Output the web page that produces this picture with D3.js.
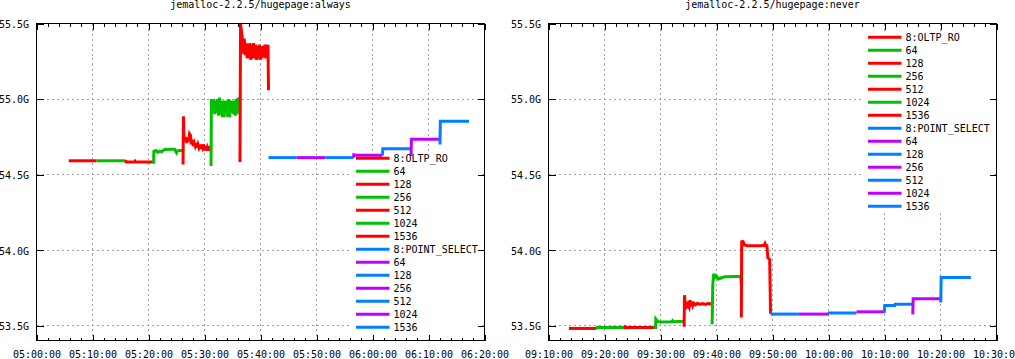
<!DOCTYPE html>
<html>
<head>
<meta charset="utf-8">
<script src="https://cdn.jsdelivr.net/npm/d3@7"></script>
<style>
body{margin:0;background:#fff;}
svg{display:block;font-family:"DejaVu Sans Mono",monospace;font-size:10px;}
</style>
</head>
<body>
<div id="chart"></div>
<script>
// data (values in G)
var panelTitles = ["jemalloc-2.2.5/hugepage:always", "jemalloc-2.2.5/hugepage:never"];
var legendLabels = ["8:OLTP_RO","64","128","256","512","1024","1536",
                    "8:POINT_SELECT","64","128","256","512","1024","1536"];
var yTicks = [53.5, 54.0, 54.5, 55.0, 55.5];
var xRanges = [["05:00:00","06:20:00"], ["09:10:00","10:30:00"]];

var alwaysSeries = [
  [["05:05:46",54.592],["05:10:43",54.592]],
  [["05:10:43",54.592],["05:15:54",54.592]],
  [["05:15:54",54.596],["05:16:00",54.584],["05:17:30",54.584],["05:17:35",54.589],["05:17:40",54.584],["05:20:54",54.584]],
  [["05:20:54",54.573],["05:20:58",54.655],["05:21:20",54.660],["05:21:40",54.648],["05:22:00",54.656],["05:22:20",54.652],
   ["05:22:40",54.662],["05:23:00",54.668],["05:23:30",54.666],["05:24:00",54.668],["05:24:40",54.668],["05:25:00",54.645],
   ["05:25:10",54.658],["05:25:40",54.660],["05:26:10",54.660]],
  [["05:26:10",54.567],["05:26:14",54.886],["05:26:20",54.750],["05:26:30",54.720],["05:26:40",54.750],["05:26:50",54.710],
   ["05:27:00",54.740],["05:27:10",54.720],["05:27:20",54.770],["05:27:30",54.760],["05:27:40",54.700],["05:27:50",54.730],
   ["05:28:00",54.690],["05:28:10",54.710],["05:28:20",54.690],["05:28:30",54.710],["05:28:40",54.680],["05:28:50",54.700],
   ["05:29:00",54.680],["05:29:10",54.700],["05:29:20",54.670],["05:29:30",54.700],["05:29:40",54.680],["05:29:50",54.700],
   ["05:30:00",54.660],["05:30:10",54.690],["05:30:20",54.660],["05:30:30",54.680],["05:30:40",54.660],["05:30:50",54.690],
   ["05:31:00",54.660],["05:31:10",54.680]],
  [["05:31:10",54.557],["05:31:14",54.990],["05:31:20",54.990],["05:31:30",54.910],["05:31:40",55.000],["05:31:50",54.900],
   ["05:32:00",54.990],["05:32:10",54.910],["05:32:20",55.000],["05:32:30",54.890],["05:32:40",55.010],["05:32:50",54.900],
   ["05:33:00",54.990],["05:33:10",54.880],["05:33:20",54.990],["05:33:30",54.880],["05:33:40",54.990],["05:33:50",54.900],
   ["05:34:00",54.990],["05:34:10",54.880],["05:34:20",55.000],["05:34:30",54.880],["05:34:40",54.990],["05:34:50",54.910],
   ["05:35:00",54.990],["05:35:10",54.900],["05:35:20",54.990],["05:35:30",54.890],["05:35:40",55.000],["05:35:50",54.900],
   ["05:36:00",55.010],["05:36:10",54.920]],
  [["05:36:20",54.584],["05:36:26",55.500],["05:36:36",55.450],["05:36:46",55.400],["05:36:56",55.300],["05:37:06",55.400],
   ["05:37:16",55.290],["05:37:26",55.370],["05:37:36",55.270],["05:37:46",55.360],["05:37:56",55.270],["05:38:06",55.370],
   ["05:38:16",55.260],["05:38:26",55.360],["05:38:36",55.270],["05:38:46",55.370],["05:38:56",55.270],["05:39:06",55.360],
   ["05:39:16",55.260],["05:39:26",55.350],["05:39:36",55.270],["05:39:46",55.360],["05:39:56",55.260],["05:40:06",55.350],
   ["05:40:16",55.270],["05:40:26",55.350],["05:40:36",55.280],["05:40:46",55.360],["05:40:56",55.270],["05:41:06",55.360],
   ["05:41:16",55.280],["05:41:20",55.360],["05:41:26",55.058]],
  [["05:41:26",54.613],["05:46:26",54.613]],
  [["05:46:26",54.613],["05:51:36",54.613]],
  [["05:51:36",54.613],["05:56:36",54.613]],
  [["05:56:36",54.613],["05:56:40",54.632],["05:57:00",54.628],["06:01:47",54.628]],
  [["06:01:47",54.628],["06:01:50",54.672],["06:06:53",54.672]],
  [["06:06:53",54.624],["06:06:57",54.734],["06:12:03",54.734]],
  [["06:12:03",54.700],["06:12:07",54.853],["06:17:14",54.853]]
];

var neverSeries = [
  [["09:13:38",53.483],["09:18:34",53.483]],
  [["09:18:34",53.478],["09:18:40",53.490],["09:23:38",53.490]],
  [["09:23:38",53.478],["09:23:42",53.494],["09:24:00",53.490],["09:29:06",53.490]],
  [["09:29:06",53.480],["09:29:10",53.545],["09:29:30",53.530],["09:30:00",53.525],["09:32:00",53.527],["09:32:10",53.535],
   ["09:32:20",53.527],["09:34:00",53.530],["09:34:13",53.535]],
  [["09:34:13",53.494],["09:34:17",53.703],["09:34:27",53.610],["09:34:37",53.660],["09:34:47",53.620],["09:34:57",53.640],
   ["09:35:07",53.625],["09:35:17",53.670],["09:35:27",53.630],["09:35:37",53.660],["09:35:47",53.635],["09:35:57",53.650],
   ["09:36:17",53.640],["09:36:37",53.650],["09:37:00",53.642],["09:37:30",53.648],["09:38:00",53.642],["09:38:30",53.648],
   ["09:39:00",53.645],["09:39:13",53.650]],
  [["09:39:13",53.510],["09:39:20",53.770],["09:39:30",53.845],["09:39:45",53.820],["09:40:00",53.830],["09:40:20",53.810],
   ["09:40:40",53.815],["09:41:00",53.820],["09:41:30",53.825],["09:42:00",53.825],["09:43:00",53.826],["09:44:00",53.826],
   ["09:44:20",53.826],["09:44:26",53.770]],
  [["09:44:26",53.556],["09:44:30",54.065],["09:44:40",54.040],["09:44:50",54.050],["09:45:00",54.035],["09:45:30",54.030],
   ["09:46:00",54.030],["09:47:00",54.030],["09:48:00",54.030],["09:48:30",54.033],["09:48:40",54.045],["09:48:50",54.030],
   ["09:49:00",54.030],["09:49:10",53.950],["09:49:30",53.940],["09:49:39",53.580]],
  [["09:49:39",53.578],["09:54:42",53.578]],
  [["09:54:42",53.578],["10:00:03",53.578]],
  [["10:00:03",53.578],["10:00:07",53.585],["10:05:00",53.585]],
  [["10:05:00",53.593],["10:09:58",53.593]],
  [["10:09:58",53.585],["10:10:02",53.635],["10:11:50",53.635],["10:11:54",53.643],["10:15:03",53.643]],
  [["10:15:03",53.576],["10:15:07",53.680],["10:20:03",53.680]],
  [["10:20:03",53.655],["10:20:07",53.820],["10:25:25",53.820]]
];

// styles / layout
var seriesColors = ["#ff0000","#00c000","#ff0000","#00c000","#ff0000","#00c000","#ff0000",
                    "#0080ff","#c000ff","#0080ff","#c000ff","#0080ff","#c000ff","#0080ff"];
var svgWidth = 1015;
var svgHeight = 359;
var plotTop = 23.5, plotBottom = 340.5;
var gridColor = "#a0a0a0";

var layouts = [
  {left: 36.5, right: 484.5, legendX: 356, legendY: 158.3, box: [352, 152, 128, 184], data: alwaysSeries},
  {left: 548.5, right: 996.5, legendX: 868, legendY: 37.3, box: [863, 31, 128, 182], data: neverSeries}
];

var parseTime = d3.timeParse("%H:%M:%S");
var fmtTime = d3.timeFormat("%H:%M:%S");

var svg = d3.select("#chart")
  .append("svg")
  .attr("width", svgWidth)
  .attr("height", svgHeight);

layouts.forEach(function(p, pi) {
  var xScale = d3.scaleTime()
    .domain([parseTime(xRanges[pi][0]), parseTime(xRanges[pi][1])])
    .range([p.left, p.right]);
  var yScale = d3.scaleLinear()
    .domain([53.4, 55.5])
    .range([341, plotTop]);

  var g = svg.append("g");
  var majors = xScale.ticks(d3.timeMinute.every(10));

  // title
  g.append("text")
    .attr("x", (p.left + p.right) / 2)
    .attr("y", 7.5)
    .attr("text-anchor", "middle")
    .text(panelTitles[pi]);

  // dotted grid
  var grid = g.append("g")
    .attr("stroke", gridColor)
    .attr("stroke-dasharray", "2,3")
    .attr("shape-rendering", "crispEdges");
  grid.selectAll("line.gx")
    .data(majors.slice(1, -1))
    .enter().append("line")
    .attr("x1", d => xScale(d)).attr("x2", d => xScale(d))
    .attr("y1", plotTop).attr("y2", plotBottom);
  grid.selectAll("line.gy")
    .data(yTicks.slice(0, -1))
    .enter().append("line")
    .attr("x1", p.left).attr("x2", p.right)
    .attr("y1", d => yScale(d)).attr("y2", d => yScale(d));

  // opaque key box
  g.append("rect")
    .attr("x", p.box[0]).attr("y", p.box[1])
    .attr("width", p.box[2]).attr("height", p.box[3])
    .attr("fill", "#fff");

  // series
  var line = d3.line()
    .x(d => xScale(parseTime(d[0])))
    .y(d => yScale(d[1]));
  g.selectAll("path.series")
    .data(p.data)
    .enter().append("path")
    .attr("class", "series")
    .attr("d", line)
    .attr("fill", "none")
    .attr("stroke", (d, i) => seriesColors[i])
    .attr("stroke-width", 3);

  // key
  var key = g.selectAll("g.key")
    .data(legendLabels)
    .enter().append("g")
    .attr("transform", (d, i) => `translate(${p.legendX},${p.legendY + i * 13})`);
  key.append("line")
    .attr("x1", 0).attr("x2", 33.5)
    .attr("stroke", (d, i) => seriesColors[i])
    .attr("stroke-width", 3);
  key.append("text")
    .attr("x", 37.5)
    .attr("dy", "0.36em")
    .text(d => d);

  // border
  g.append("rect")
    .attr("x", p.left).attr("y", plotTop)
    .attr("width", p.right - p.left).attr("height", plotBottom - plotTop)
    .attr("fill", "none")
    .attr("stroke", "#000")
    .attr("shape-rendering", "crispEdges");

  // axes (ticks pointing inward like gnuplot)
  var bottomAxis = d3.axisBottom(xScale)
    .ticks(d3.timeMinute.every(10))
    .tickFormat(fmtTime)
    .tickSize(-6)
    .tickPadding(10.5);
  var xAxis = g.append("g")
    .attr("transform", `translate(0,${plotBottom})`)
    .call(bottomAxis);
  var minorBottom = g.append("g")
    .attr("transform", `translate(0,${plotBottom})`)
    .call(d3.axisBottom(xScale).ticks(d3.timeMinute.every(2)).tickSize(-3).tickFormat(""));
  var topAxis = g.append("g")
    .attr("transform", `translate(0,${plotTop})`)
    .call(d3.axisTop(xScale).ticks(d3.timeMinute.every(10)).tickSize(-6).tickFormat(""));
  var minorTop = g.append("g")
    .attr("transform", `translate(0,${plotTop})`)
    .call(d3.axisTop(xScale).ticks(d3.timeMinute.every(2)).tickSize(-3).tickFormat(""));
  var leftAxis = d3.axisLeft(yScale)
    .tickValues(yTicks)
    .tickSize(-7)
    .tickPadding(7.5)
    .tickFormat(d => d.toFixed(1) + "G");
  var yAxis = g.append("g")
    .attr("transform", `translate(${p.left},0)`)
    .call(leftAxis);
  var rightAxis = g.append("g")
    .attr("transform", `translate(${p.right},0)`)
    .call(d3.axisRight(yScale).tickValues(yTicks).tickSize(-7).tickFormat(""));

  [xAxis, minorBottom, topAxis, minorTop, yAxis, rightAxis].forEach(function(a) {
    a.select(".domain").remove();
    a.attr("font-family", null).attr("font-size", null);
    a.selectAll("line").attr("shape-rendering", "crispEdges");
    a.selectAll("text").attr("fill", "#000");
  });
  yAxis.selectAll("text").attr("dy", "0.38em");
});
</script>
</body>
</html>
